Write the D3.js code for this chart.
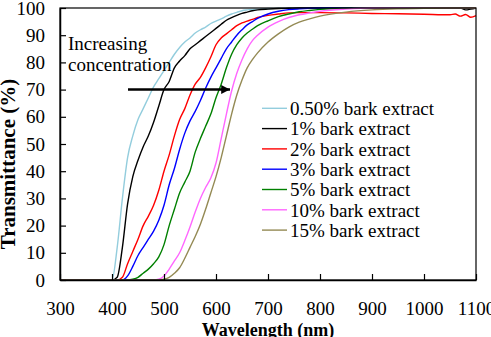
<!DOCTYPE html>
<html>
<head>
<meta charset="utf-8">
<script src="https://cdn.jsdelivr.net/npm/d3@7"></script>
<style>
  body { margin: 0; background: #fff; }
  svg text { font-family: "Liberation Serif", "DejaVu Serif", serif; fill: #000; }
</style>
</head>
<body>
<div id="chart"></div>
<script>
// wavelength grid (nm) shared by every series
const wavelength = [300, 380, 400, 410, 420, 430, 440, 450, 460, 470, 480, 490, 500, 510, 520, 530, 540, 550, 560, 570, 580, 590, 600, 610, 620, 630, 640, 650, 660, 670, 680, 700, 720, 740, 760, 780, 800, 850, 900, 950, 1000, 1050, 1060, 1070, 1080, 1090, 1100];

// transmittance (%)
const t050 = [0, 0, 0, 12, 30, 45, 53, 59, 63, 67, 71, 74, 77, 80, 83, 85.5, 87.5, 89, 90.8, 92, 93, 94.3, 95.2, 96, 97, 97.8, 98.4, 99, 99.3, 99.5, 99.6, 99.8, 99.9, 100, 100, 100, 100, 100, 100, 100, 100, 100, 100, 100, 100, 100, 100];
const t1 = [0, 0, 0, 1, 12, 28, 38, 44, 49, 53, 58, 64, 70, 73, 78, 80.5, 82.5, 85, 86.5, 88, 89.5, 91, 92.5, 94, 95.5, 96.5, 97.3, 98, 98.5, 99, 99.3, 99.6, 99.8, 99.9, 100, 100, 100, 100, 100, 100, 100, 100, 100, 100, 99.3, 99.6, 100];
const t2 = [0, 0, 0, 0, 1, 6, 10.5, 15, 20, 23.5, 27.5, 33, 40, 46, 53, 59, 63, 68, 72, 74.5, 78, 82, 86.5, 89, 90.5, 92, 93.5, 94.5, 95.2, 95.8, 96.5, 97.3, 97.8, 98.2, 98.3, 98.3, 98.3, 98.2, 98, 97.9, 97.7, 97.5, 97.8, 97.0, 97.6, 96.6, 97.2];
const t3 = [0, 0, 0, 0, 0, 1.5, 5, 9, 12, 15, 18, 22, 27.5, 35, 41, 48, 54, 58.5, 62, 66, 70.5, 74.5, 78, 81.5, 85, 87.5, 90, 92, 93.8, 95, 96.2, 97.8, 98.8, 99.4, 99.7, 99.9, 100, 100, 100, 100, 100, 100, 100, 100, 100, 100, 100];
const t5 = [0, 0, 0, 0, 0, 0, 0.3, 1, 2.5, 4, 6, 8.5, 13, 20, 26, 32, 36, 40, 47, 52, 56.5, 61, 67, 72, 78, 83, 86.5, 89, 90.8, 92.2, 93.5, 95.3, 96.8, 97.8, 98.6, 99.1, 99.5, 99.9, 100, 100, 100, 100, 100, 100, 100, 100, 100];
const t10 = [0, 0, 0, 0, 0, 0, 0, 0, 0, 0, 0, 0.3, 1.5, 4, 7, 10, 14.5, 19.5, 25, 30, 34, 37.5, 43, 52, 61, 69.5, 76, 81, 85, 88, 90, 93, 95, 96.5, 97.5, 98.2, 98.8, 99.6, 100, 100, 100, 100, 100, 100, 100, 100, 100];
const t15 = [0, 0, 0, 0, 0, 0, 0, 0, 0, 0, 0, 0, 0.3, 1, 2.5, 4.5, 8, 12, 16, 20.5, 26, 32, 38, 45, 53, 61, 68, 73.5, 78, 81, 83.5, 87.5, 90.5, 93, 94.8, 96, 97, 98.5, 99.3, 99.7, 99.9, 100, 100, 100, 100, 100, 100];

const seriesNames = ["0.50% bark extract", "1% bark extract", "2% bark extract", "3% bark extract", "5% bark extract", "10% bark extract", "15% bark extract"];
const seriesValues = [t050, t1, t2, t3, t5, t10, t15];
const seriesColors = ["#93cddd", "#000000", "#ff0000", "#0000ff", "#008000", "#ff66ff", "#948a54"];

const xTicks = [300, 400, 500, 600, 700, 800, 900, 1000, 1100];
const yTicks = [0, 10, 20, 30, 40, 50, 60, 70, 80, 90, 100];

const w = 491, h = 337;
const margin = {top: 8, right: 15, bottom: 57, left: 60};
const serif = "'Liberation Serif', 'DejaVu Serif', serif";

const svg = d3.select("#chart").append("svg")
    .attr("width", w)
    .attr("height", h);

const x = d3.scaleLinear().domain([300, 1100]).range([margin.left, w - margin.right]);
const y = d3.scaleLinear().domain([0, 100]).range([h - margin.bottom, margin.top]);

// curves
const line = d3.line()
    .x(function (d) { return x(d[0]); })
    .y(function (d) { return y(d[1]); })
    .curve(d3.curveMonotoneX);

seriesValues.forEach(function (vals, i) {
    svg.append("path")
        .datum(wavelength.map(function (wl, j) { return [wl, vals[j]]; }))
        .attr("fill", "none")
        .attr("stroke", seriesColors[i])
        .attr("stroke-width", 1.4)
        .attr("d", line);
});

// frame
svg.append("rect")
    .attr("x", x(300))
    .attr("y", y(100))
    .attr("width", x(1100) - x(300))
    .attr("height", y(0) - y(100))
    .attr("fill", "none")
    .attr("stroke", "#000")
    .attr("stroke-width", 1.2);

// axes, ticks pointing inward
const xAxis = svg.append("g")
    .attr("transform", "translate(0," + y(0) + ")")
    .call(d3.axisBottom(x).tickValues(xTicks).tickFormat(d3.format("d"))
        .tickSizeInner(-6).tickSizeOuter(0).tickPadding(22));
const yAxis = svg.append("g")
    .attr("transform", "translate(" + x(300) + ",0)")
    .call(d3.axisLeft(y).tickValues(yTicks).tickFormat(d3.format("d"))
        .tickSizeInner(-6).tickSizeOuter(0).tickPadding(15));

[xAxis, yAxis].forEach(function (a) {
    a.attr("font-family", serif).attr("font-size", 19);
    a.select(".domain").attr("stroke", "#000").attr("stroke-width", 1.5);
    a.selectAll(".tick line").attr("stroke", "#000").attr("stroke-width", 1.2);
    a.selectAll(".tick text").attr("fill", "#000");
});

// axis titles
svg.append("text")
    .attr("x", (x(300) + x(1100)) / 2)
    .attr("y", 336)
    .attr("text-anchor", "middle")
    .attr("font-size", 18)
    .attr("font-weight", "bold")
    .text("Wavelength (nm)");

svg.append("text")
    .attr("transform", "translate(15,164) rotate(-90)")
    .attr("text-anchor", "middle")
    .attr("font-size", 21)
    .attr("font-weight", "bold")
    .text("Transmittance (%)");

// annotation
svg.append("text").attr("x", 68).attr("y", 50).attr("font-size", 19).text("Increasing");
svg.append("text").attr("x", 68).attr("y", 71).attr("font-size", 19).text("concentration");

svg.append("defs").append("marker")
    .attr("id", "head")
    .attr("viewBox", "0 0 10 10")
    .attr("refX", 10).attr("refY", 5)
    .attr("markerWidth", 4).attr("markerHeight", 3.4)
    .attr("orient", "auto")
    .append("path").attr("d", "M0,0L10,5L0,10Z").attr("fill", "#000");

svg.append("line")
    .attr("x1", 128).attr("y1", 89.5)
    .attr("x2", 230).attr("y2", 89.5)
    .attr("stroke", "#000")
    .attr("stroke-width", 2.6)
    .attr("marker-end", "url(#head)");

// legend
const legend = svg.append("g");
seriesNames.forEach(function (name, i) {
    const ly = 108.3 + i * 20.3;
    legend.append("line")
        .attr("x1", 262).attr("x2", 287)
        .attr("y1", ly).attr("y2", ly)
        .attr("stroke", seriesColors[i])
        .attr("stroke-width", 1.4);
    legend.append("text")
        .attr("x", 290)
        .attr("y", ly + 6.7)
        .attr("font-size", 19)
        .text(name);
});
</script>
</body>
</html>
